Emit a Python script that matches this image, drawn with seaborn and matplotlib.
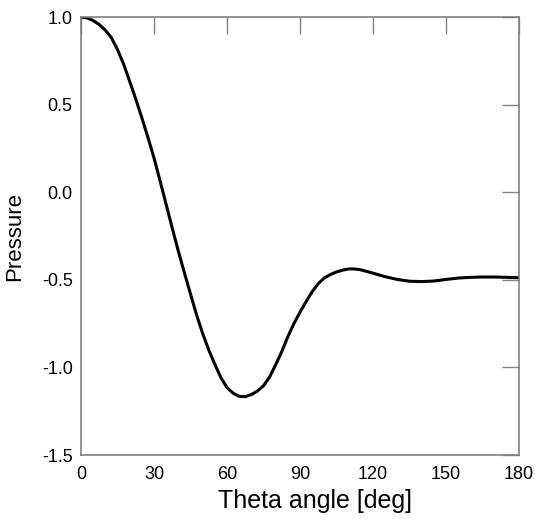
import matplotlib
matplotlib.use('Agg')
from matplotlib import pyplot as plt
import seaborn as sns
import pandas as pd

# ---------- data ----------
theta = [0, 2.5, 5, 7.5, 10, 12.5, 15, 17.5, 20, 22.5, 25, 27.5, 30, 32.5, 35,
         37.5, 40, 42.5, 45, 47.5, 50, 52.5, 55, 57.5, 60, 62.5, 65, 67.5, 70,
         72.5, 75, 77.5, 80, 82.5, 85, 87.5, 90, 92.5, 95, 97.5, 100, 102.5,
         105, 107.5, 110, 112.5, 115, 120, 125, 130, 135, 140, 145, 150, 155,
         160, 165, 170, 175, 180]
pressure = [1.0, 0.995, 0.98, 0.957, 0.925, 0.882, 0.814, 0.732, 0.633, 0.532,
            0.425, 0.313, 0.196, 0.065, -0.07, -0.205, -0.336, -0.46, -0.581,
            -0.70, -0.806, -0.90, -0.982, -1.058, -1.115, -1.147, -1.165,
            -1.167, -1.155, -1.135, -1.105, -1.055, -0.985, -0.91, -0.825,
            -0.75, -0.685, -0.625, -0.568, -0.522, -0.49, -0.47, -0.455,
            -0.445, -0.438, -0.438, -0.443, -0.462, -0.482, -0.498, -0.508,
            -0.51, -0.507, -0.498, -0.49, -0.486, -0.484, -0.484, -0.486, -0.488]
xticks = [0, 30, 60, 90, 120, 150, 180]
yticks = [-1.5, -1.0, -0.5, 0.0, 0.5, 1.0]

df = pd.DataFrame({'theta': theta, 'pressure': pressure})

sns.set_style('white')
plt.rcParams['font.family'] = ['Liberation Sans', 'DejaVu Sans']
plt.rcParams['axes.unicode_minus'] = False

fig = plt.figure(figsize=(5.35, 5.19), dpi=100)
ax = fig.add_axes([0.1514, 0.1233, 0.8186, 0.8439])

sns.lineplot(data=df, x='theta', y='pressure', ax=ax, color='black', linewidth=2.2)

ax.set_xlim(0, 180)
ax.set_ylim(-1.5, 1.0)
ax.set_xticks(xticks)
ax.set_yticks(yticks)
ax.set_yticklabels([f'{v:.1f}' for v in yticks])
ax.tick_params(direction='in', length=12, width=1, color='#808080',
               top=True, right=True, labelsize=13, labelcolor='black')
ax.tick_params(axis='x', pad=8)
ax.tick_params(axis='y', pad=6)
for s in ax.spines.values():
    s.set_color('#808080')
    s.set_linewidth(1.2)

ax.set_xlabel('Theta angle [deg]', fontsize=18, color='black')
ax.set_ylabel('Pressure', fontsize=16, color='black')
ax.xaxis.set_label_coords(0.535, -0.077)
ax.yaxis.set_label_coords(-0.128, 0.5)

fig.savefig('out.png', dpi=100)
